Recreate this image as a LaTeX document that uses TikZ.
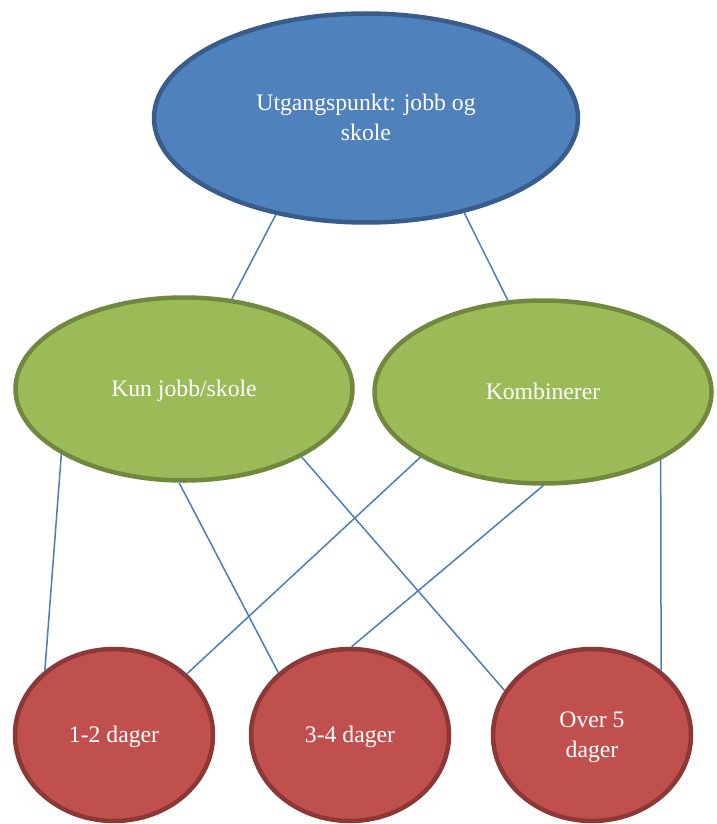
\documentclass[tikz,border=0pt]{standalone}
\usepackage{fontspec}
\setmainfont{Liberation Serif}
\usetikzlibrary{shapes.geometric}
\definecolor{bluefill}{HTML}{4F81BD}
\definecolor{blueedge}{HTML}{385D8A}
\definecolor{greenfill}{HTML}{9BBB59}
\definecolor{greenedge}{HTML}{71893F}
\definecolor{redfill}{HTML}{C0504D}
\definecolor{rededge}{HTML}{8C3836}
\definecolor{linkcol}{HTML}{4A7EBB}
\newcommand{\lbltext}[1]{\raisebox{-7.5pt}[0pt][0pt]{\begin{tabular}{@{}c@{}}#1\end{tabular}}}
\tikzset{
  oval/.style={ellipse, inner sep=0pt, line width=4.5pt, text=white,
    font=\fontsize{23.7}{30}\selectfont},
  topoval/.style={oval, fill=bluefill, draw=blueedge, minimum width=424pt, minimum height=209pt},
  midoval/.style={oval, fill=greenfill, draw=greenedge, minimum width=337pt, minimum height=183pt},
  lowoval/.style={oval, fill=redfill, draw=rededge, minimum width=198pt, minimum height=172pt},
  link/.style={draw=linkcol, line width=1.5pt}
}
\begin{document}
\begin{tikzpicture}[x=1pt,y=-1pt]
\useasboundingbox (0,0) rectangle (716,824);
\node[topoval] (top) at (366,118) {\lbltext{Utgangspunkt: jobb og\\skole}};
\node[midoval] (kun) at (184,389) {\lbltext{Kun jobb/skole}};
\node[midoval] (komb) at (543,392) {\lbltext{Kombinerer}};
\node[lowoval] (d12) at (114,735) {\lbltext{1-2 dager}};
\node[lowoval] (d34) at (350,735) {\lbltext{3-4 dager}};
\node[lowoval] (d5) at (592,735) {\lbltext{Over 5\\dager}};
\draw[link] (top.227.7) -- (kun.62.4);
\draw[link] (top.316.1) -- (komb.111);
\draw[link] (kun.208.8) -- (d12.137.2);
\draw[link] (kun.267.6) -- (d34.139.7);
\draw[link] (kun.330.8) -- (d5.153.4);
\draw[link] (komb.208.6) -- (d12.40.7);
\draw[link] (komb.270) -- (d34.89.3);
\draw[link] (komb.330.8) -- (d5.43.7);
\end{tikzpicture}
\end{document}
